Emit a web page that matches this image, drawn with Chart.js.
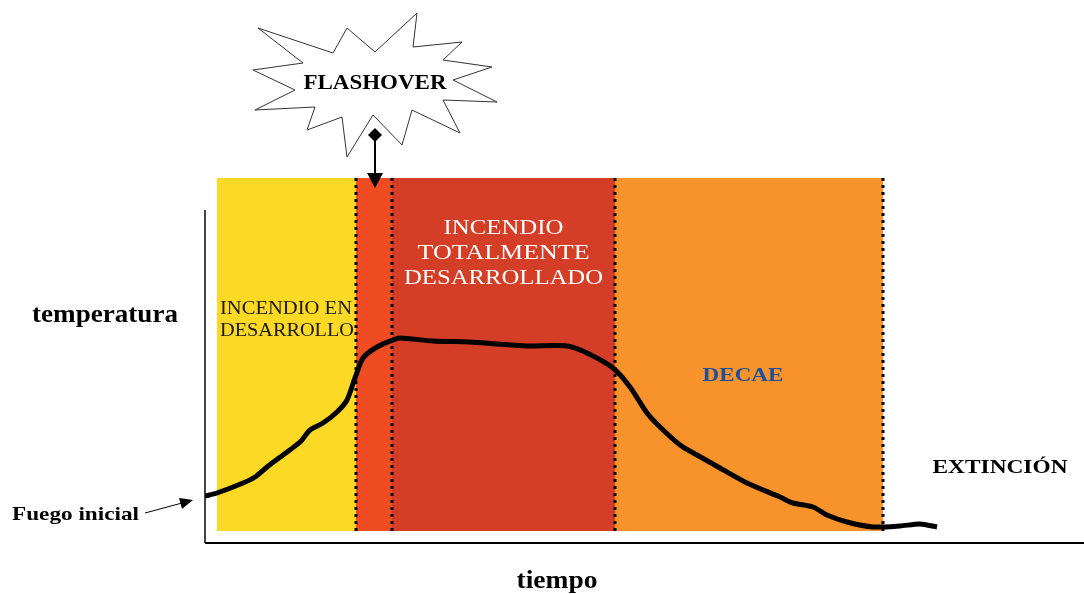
<!DOCTYPE html>
<html>
<head>
<meta charset="utf-8">
<script src="https://cdn.jsdelivr.net/npm/chart.js@4.4.0/dist/chart.umd.min.js"></script>
<style>
  html, body { margin: 0; padding: 0; background: #fff; }
  #wrap { width: 1084px; height: 594px; position: relative; }
</style>
</head>
<body>
<div id="wrap"><canvas id="fuego"></canvas></div>
<script>
// curva de temperatura (tiempo en unidades arbitrarias)
const tiempo = [0, 1.2, 3.8, 5.0, 6.2, 7.8, 9.5, 10.5, 11.8, 13.2, 14.2, 15.0, 15.8, 17.2, 18.8, 19.5,
  22.8, 26.5, 29.2, 32.2, 36.2, 38.2, 40.8, 42.5, 44.2, 45.5, 47.5, 49.2, 51.5, 54.2, 57.5, 58.8,
  60.8, 62.2, 64.2, 66.8, 69.5, 71.5, 73.2];
const temperatura = [9.4, 10, 12, 13.2, 15.2, 17.6, 20.2, 22.6, 24, 26.2, 28.6, 33, 37, 39.2, 40.6, 41,
  40.4, 40.2, 39.8, 39.4, 39.4, 38, 35, 31.2, 26, 23.2, 19.6, 17.6, 15, 12, 9.2, 8,
  7.2, 5.6, 4.2, 3.2, 3.4, 3.8, 3.2];

// fases del incendio
const faseLimites = [1.2, 15.1, 18.7, 41, 67.8];
const faseColores = ['#FCD925', '#EF4C24', '#D43E27', '#F7932A'];
const faseArriba = 73;
const faseAbajo = 2.4;
const flashover = 17.0;

const estrella = [[-117,-55],[-42,-30],[-28,-55],[0,-31],[42,-70],[38,-36],[87,-41],[68,-23],
  [117,-16],[78,-3],[122,19],[68,17],[85,50],[37,27],[27,62],[-2,32],[-28,74],[-33,34],
  [-68,47],[-60,24],[-120,27],[-80,7],[-122,-13],[-72,-20]];

const serif = '"Liberation Serif", "Times New Roman", serif';

// texto estirado a un ancho dado (el original esta ensanchado)
function texto(ctx, s, x, y, font, color, align, ancho) {
  ctx.save();
  ctx.font = font;
  ctx.fillStyle = color;
  ctx.textBaseline = 'middle';
  ctx.textAlign = 'left';
  const w = ctx.measureText(s).width;
  const sx = ancho ? ancho / w : 1;
  const rw = w * sx;
  let x0 = x;
  if (align === 'center') x0 = x - rw / 2;
  else if (align === 'right') x0 = x - rw;
  ctx.translate(x0, y);
  ctx.scale(sx, 1);
  ctx.fillText(s, 0, 0);
  ctx.restore();
}

const fondo = {
  id: 'fondo',
  beforeDatasetsDraw(chart) {
    const { ctx, scales: { x, y } } = chart;
    ctx.save();
    // bandas
    for (let i = 0; i < faseColores.length; i++) {
      const x0 = x.getPixelForValue(faseLimites[i]);
      const x1 = x.getPixelForValue(faseLimites[i + 1]);
      const y0 = y.getPixelForValue(faseArriba);
      const y1 = y.getPixelForValue(faseAbajo);
      ctx.fillStyle = faseColores[i];
      ctx.fillRect(x0, y0, x1 - x0, y1 - y0);
    }
    // lineas punteadas
    ctx.strokeStyle = '#000';
    ctx.lineWidth = 3;
    ctx.setLineDash([3, 4]);
    for (let i = 1; i < faseLimites.length; i++) {
      const px = Math.round(x.getPixelForValue(faseLimites[i]));
      ctx.beginPath();
      ctx.moveTo(px, y.getPixelForValue(faseArriba));
      ctx.lineTo(px, y.getPixelForValue(faseAbajo));
      ctx.stroke();
    }
    ctx.setLineDash([]);

    // ejes
    const x0 = x.getPixelForValue(0);
    const yb = y.getPixelForValue(0);
    ctx.strokeStyle = '#444';
    ctx.lineWidth = 2;
    ctx.beginPath();
    ctx.moveTo(x0, y.getPixelForValue(66.6));
    ctx.lineTo(x0, yb);
    ctx.stroke();
    ctx.strokeStyle = '#000';
    ctx.beginPath();
    ctx.moveTo(x0, yb);
    ctx.lineTo(chart.width, yb);
    ctx.stroke();

    // textos dentro de las bandas
    texto(ctx, 'INCENDIO EN', 220, 309, '18px ' + serif, '#1a1a1a', 'left', 132);
    texto(ctx, 'DESARROLLO', 220, 331, '18px ' + serif, '#1a1a1a', 'left', 134);
    const cx = (x.getPixelForValue(faseLimites[2]) + x.getPixelForValue(faseLimites[3])) / 2;
    texto(ctx, 'INCENDIO', cx, 229, '20px ' + serif, '#fff', 'center', 120);
    texto(ctx, 'TOTALMENTE', cx, 254, '20px ' + serif, '#fff', 'center', 172);
    texto(ctx, 'DESARROLLADO', cx, 279, '20px ' + serif, '#fff', 'center', 199);
    texto(ctx, 'DECAE', 743, 376, 'bold 19px ' + serif, '#1E4F9C', 'center', 81);
    ctx.restore();
  },
  afterDatasetsDraw(chart) {
    const { ctx, scales: { x } } = chart;
    ctx.save();
    texto(ctx, 'temperatura', 32, 316, 'bold 25px ' + serif, '#000', 'left', 146);
    texto(ctx, 'tiempo', 557, 582, 'bold 25px ' + serif, '#000', 'center', 81);
    texto(ctx, 'EXTINCIÓN', 1000, 468, 'bold 19px ' + serif, '#000', 'center', 135);
    texto(ctx, 'Fuego inicial', 12, 515, 'bold 19px ' + serif, '#000', 'left', 127);

    // flecha fuego inicial
    ctx.strokeStyle = '#000';
    ctx.fillStyle = '#000';
    ctx.lineWidth = 1;
    ctx.beginPath();
    ctx.moveTo(145, 513);
    ctx.lineTo(182, 503);
    ctx.stroke();
    ctx.beginPath();
    ctx.moveTo(193, 500);
    ctx.lineTo(179, 498);
    ctx.lineTo(182, 509);
    ctx.closePath();
    ctx.fill();

    // estrella flashover
    const fx = x.getPixelForValue(flashover);
    const fy = 83;
    ctx.beginPath();
    estrella.forEach((p, i) => {
      if (i === 0) ctx.moveTo(fx + p[0], fy + p[1]);
      else ctx.lineTo(fx + p[0], fy + p[1]);
    });
    ctx.closePath();
    ctx.fillStyle = '#fff';
    ctx.fill();
    ctx.strokeStyle = '#333';
    ctx.lineWidth = 1;
    ctx.stroke();
    texto(ctx, 'FLASHOVER', fx, fy + 1, 'bold 20px ' + serif, '#000', 'center', 143);

    // flecha flashover
    ctx.fillStyle = '#000';
    ctx.beginPath();
    ctx.moveTo(fx, 128);
    ctx.lineTo(fx + 7, 135);
    ctx.lineTo(fx, 142);
    ctx.lineTo(fx - 7, 135);
    ctx.closePath();
    ctx.fill();
    ctx.strokeStyle = '#000';
    ctx.lineWidth = 2;
    ctx.beginPath();
    ctx.moveTo(fx, 140);
    ctx.lineTo(fx, 176);
    ctx.stroke();
    ctx.beginPath();
    ctx.moveTo(fx, 188);
    ctx.lineTo(fx - 8, 173);
    ctx.lineTo(fx + 8, 173);
    ctx.closePath();
    ctx.fill();
    ctx.restore();
  }
};

new Chart(document.getElementById('fuego'), {
  type: 'line',
  data: {
    datasets: [{
      data: tiempo.map((t, i) => ({ x: t, y: temperatura[i] })),
      borderColor: '#000',
      borderWidth: 5,
      pointRadius: 0,
      tension: 0.25,
      fill: false
    }]
  },
  options: {
    responsive: true,
    maintainAspectRatio: false,
    animation: false,
    layout: { padding: { left: 205, right: 0, top: 178, bottom: 51 } },
    plugins: { legend: { display: false }, tooltip: { enabled: false } },
    scales: {
      x: { type: 'linear', min: 0, max: 87.9, display: false },
      y: { min: 0, max: 73, display: false }
    }
  },
  plugins: [fondo]
});
</script>
</body>
</html>
